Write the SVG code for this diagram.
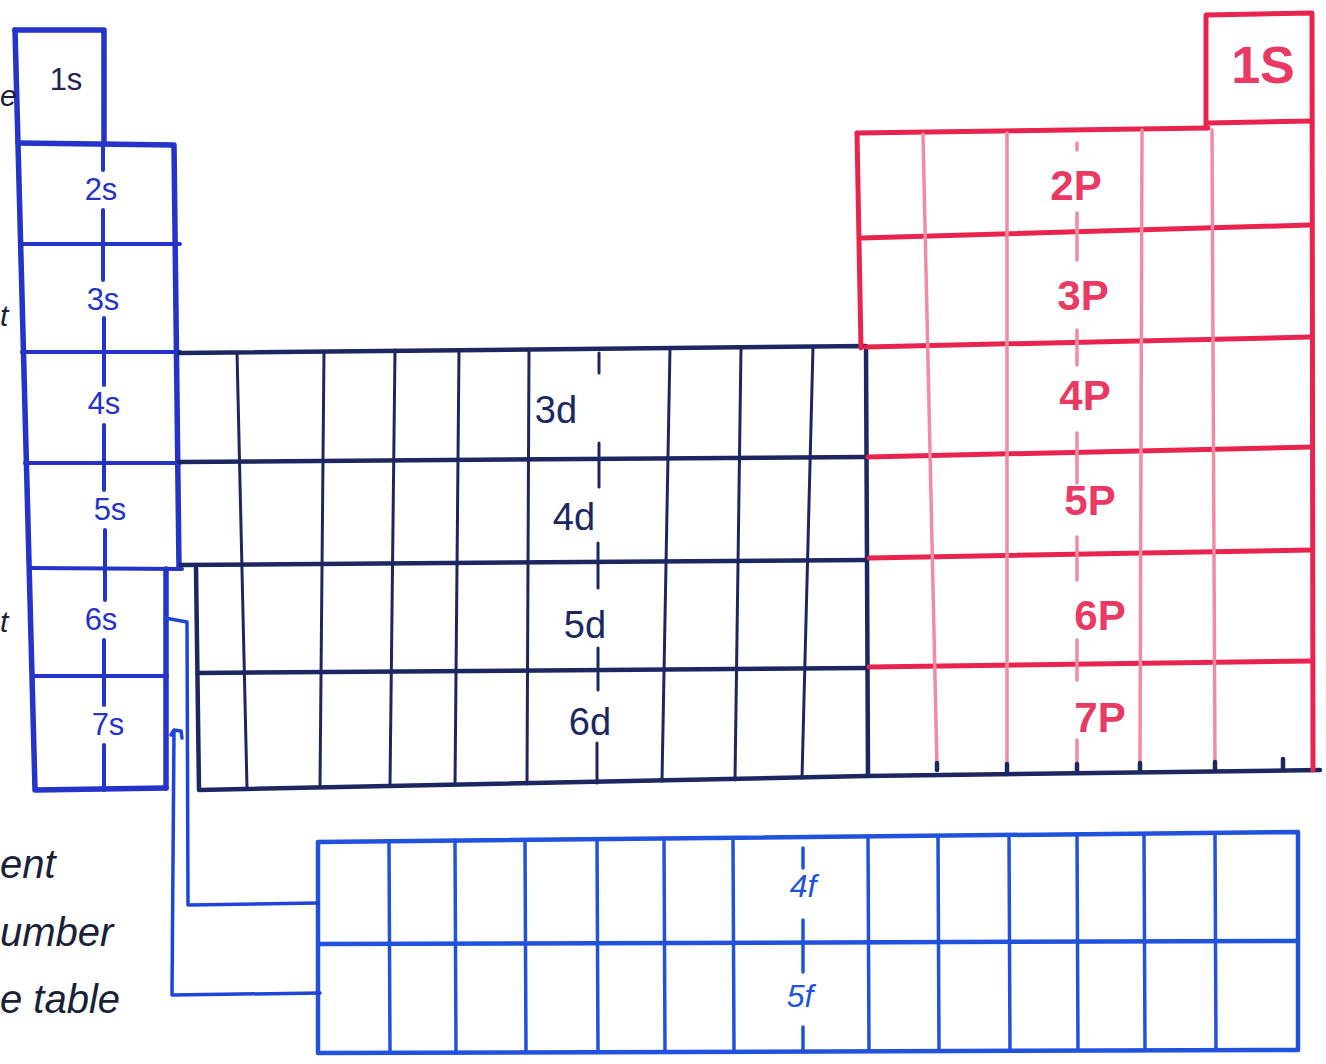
<svg xmlns="http://www.w3.org/2000/svg" width="1326" height="1064" viewBox="0 0 1326 1064">
<defs>
<style>
.bg{fill:#ffffff}
.sb{fill:none;stroke:#2433c9;stroke-width:5.5;stroke-linecap:round;stroke-linejoin:round}
.sbi{fill:none;stroke:#2433c9;stroke-width:4;stroke-linecap:round}
.db{fill:none;stroke:#1c2762;stroke-width:4.5;stroke-linecap:round;stroke-linejoin:round}
.dbi{fill:none;stroke:#1c2762;stroke-width:3;stroke-linecap:round}
.pr{fill:none;stroke:#e8244e;stroke-width:5;stroke-linecap:round;stroke-linejoin:round}
.pv{fill:none;stroke:#f28aa6;stroke-width:3.5;stroke-linecap:round}
.fb{fill:none;stroke:#2152de;stroke-width:4.5;stroke-linecap:round;stroke-linejoin:round}
.fbi{fill:none;stroke:#2152de;stroke-width:3.5;stroke-linecap:round}
.cn{fill:none;stroke:#1f45d8;stroke-width:3.5;stroke-linecap:round;stroke-linejoin:round}
.ts{font-family:"Liberation Sans","DejaVu Sans",sans-serif;font-size:31px;fill:#2433c9;text-anchor:middle}
.td{font-family:"Liberation Sans","DejaVu Sans",sans-serif;font-size:38px;fill:#1c2762;text-anchor:middle}
.tp{font-family:"Liberation Sans","DejaVu Sans",sans-serif;font-size:42px;font-weight:bold;fill:#ea3a64;text-anchor:middle}
.tf{font-family:"Liberation Sans","DejaVu Sans",sans-serif;font-size:32px;fill:#2152de;text-anchor:middle;font-style:italic}
.tn{font-family:"Liberation Sans","DejaVu Sans",sans-serif;font-size:40px;fill:#1a1f3a;font-style:italic}
</style>
</defs>
<rect class="bg" x="0" y="0" width="1326" height="1064"/>

<g id="s-block">
<path class="sb" d="M15,30 L104,30 L104,142"/>
<path class="sb" d="M15,30 L35,790 L166,788"/>
<path class="sb" d="M18,143 L174,145 L179,568"/>
<path class="sbi" d="M20,244 L180,244"/>
<path class="sbi" d="M22,352 L180,352"/>
<path class="sbi" d="M25,463 L180,463"/>
<path class="sbi" d="M30,568 L182,569"/>
<path class="sbi" d="M33,676 L167,676"/>
<path class="sb" d="M166,569 L166,788"/>
<path class="sbi" d="M103,145 L103,170 M103,210 L103,280 M104,318 L104,385 M104,425 L104,490 M105,530 L105,600 M104,640 L104,705 M104,745 L104,790"/>
<text class="ts" x="66" y="90" style="fill:#1e2350">1s</text>
<text class="ts" x="101" y="200">2s</text>
<text class="ts" x="103" y="310">3s</text>
<text class="ts" x="104" y="414">4s</text>
<text class="ts" x="110" y="520">5s</text>
<text class="ts" x="101" y="630">6s</text>
<text class="ts" x="108" y="735">7s</text>
</g>

<g id="d-block">
<path class="db" d="M179,353 L866,346 L868,776"/>
<path class="db" d="M179,462 L866,457"/>
<path class="db" d="M181,565 L866,560"/>
<path class="db" d="M198,673 L866,668"/>
<path class="db" d="M196,568 L199,790 L866,776 L1320,770"/>
<path class="dbi" d="M237,352 L247,788 M324,351 L320,787 M395,350 L390,786 M459,350 L455,785 M529,349 L527,784 M670,348 L662,781 M741,348 L735,780 M813,347 L802,778"/>
<path class="dbi" d="M599,353 L599,373 M599,443 L599,487 M598,543 L598,588 M598,648 L598,690 M597,743 L597,783"/>
<text class="td" x="556" y="423">3d</text>
<text class="td" x="574" y="530">4d</text>
<text class="td" x="585" y="638">5d</text>
<text class="td" x="590" y="735">6d</text>
</g>

<g id="p-block">
<path class="pr" d="M857,133 L1208,128"/>
<path class="pr" d="M1206,128 L1206,15 L1312,13 L1313,770"/>
<path class="pr" d="M1208,123 L1312,121"/>
<path class="pr" d="M857,133 L861,348"/>
<path class="pr" d="M862,238 L1310,225"/>
<path class="pr" d="M866,347 L1311,337"/>
<path class="pr" d="M868,457 L1311,447"/>
<path class="pr" d="M869,558 L1312,550"/>
<path class="pr" d="M869,667 L1312,661"/>
<path class="pv" d="M923,134 L937,768 M1007,133 L1007,768 M1142,130 L1140,768 M1212,130 L1215,768"/>
<path class="pv" d="M1077,143 L1077,150 M1077,213 L1077,260 M1077,330 L1077,365 M1077,433 L1077,483 M1077,537 L1077,580 M1077,640 L1077,680 M1077,740 L1077,770"/>
<path class="db" d="M937,770 L937,763 M1007,771 L1007,764 M1077,771 L1077,764 M1140,770 L1140,763 M1215,769 L1215,762 M1283,769 L1283,759"/>
<text class="tp" x="1263" y="83" style="font-size:52px">1S</text>
<text class="tp" x="1076" y="200">2P</text>
<text class="tp" x="1083" y="310">3P</text>
<text class="tp" x="1085" y="410">4P</text>
<text class="tp" x="1090" y="515">5P</text>
<text class="tp" x="1100" y="630">6P</text>
<text class="tp" x="1100" y="732">7P</text>
</g>

<g id="f-block">
<path class="fb" d="M318,842 L1298,832 L1298,1050 L318,1053 Z"/>
<path class="fb" d="M320,944 L1296,941"/>
<path class="fbi" d="M389,841 L390,1052 M455,840 L456,1052 M525,840 L526,1052 M597,839 L598,1051 M664,838 L665,1051 M733,838 L734,1051 M868,836 L869,1051 M938,836 L939,1050 M1009,835 L1010,1050 M1077,834 L1078,1050 M1144,834 L1145,1050 M1215,833 L1216,1050"/>
<path class="fbi" d="M803,848 L803,868 M803,920 L803,972 M803,1027 L803,1052"/>
<text class="tf" x="803" y="897">4f</text>
<text class="tf" x="800" y="1007">5f</text>
</g>

<g id="connectors">
<path class="cn" d="M165,618 L187,622 L188,905 L318,903"/>
<path class="cn" d="M171,735 L174,730 L181,731 L182,738 M174,730 L172,995 L320,993"/>
</g>

<g id="notes">
<text class="tn" x="0" y="106" style="font-size:30px">e</text>
<text class="tn" x="0" y="326" style="font-size:30px">t</text>
<text class="tn" x="0" y="632" style="font-size:30px">t</text>
<text class="tn" x="0" y="878">ent</text>
<text class="tn" x="0" y="946">umber</text>
<text class="tn" x="0" y="1013">e table</text>
</g>
</svg>
